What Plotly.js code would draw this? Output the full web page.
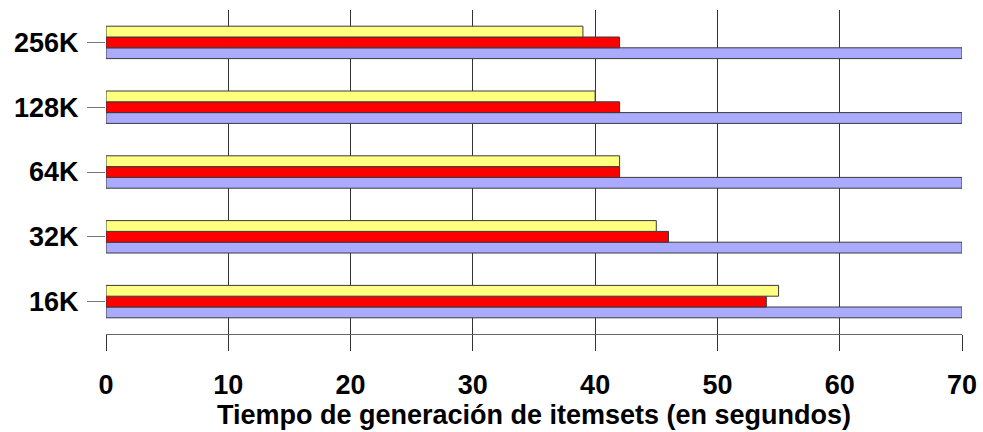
<!DOCTYPE html>
<html>
<head>
<meta charset="utf-8">
<script src="https://cdn.plot.ly/plotly-3.0.1.min.js"></script>
<style>html,body{margin:0;padding:0;background:#fff;}#chart{width:983px;height:432px;}</style>
</head>
<body>
<div id="chart"></div>
<script>
// Data
const categories = ['16K', '32K', '64K', '128K', '256K'];
const seriesYellow = [55, 45, 42, 40, 39];
const seriesRed = [54, 46, 42, 42, 42];
const seriesLavender = [70, 70, 70, 70, 70];
const xTickVals = [0, 10, 20, 30, 40, 50, 60, 70];
const xTitle = 'Tiempo de generación de itemsets (en segundos)';

const lineStyle = {color: '#3a3a3a', width: 1};
const traces = [
  {type: 'bar', orientation: 'h', y: categories, x: seriesLavender, name: 'C',
   marker: {color: '#AAAAFF', line: lineStyle}, hoverinfo: 'x+y'},
  {type: 'bar', orientation: 'h', y: categories, x: seriesRed, name: 'B',
   marker: {color: '#FF0000', line: lineStyle}, hoverinfo: 'x+y'},
  {type: 'bar', orientation: 'h', y: categories, x: seriesYellow, name: 'A',
   marker: {color: '#FFFF80', line: lineStyle}, hoverinfo: 'x+y'}
];

const font = {family: '"Liberation Sans", Arial, sans-serif', size: 27, color: '#000', weight: 'bold'};

const layout = {
  width: 983, height: 432,
  margin: {l: 106, r: 21, t: 10, b: 98, pad: 0},
  paper_bgcolor: '#fff', plot_bgcolor: '#fff',
  showlegend: false,
  barmode: 'group', bargap: 0.5, bargroupgap: 0,
  font: font,
  xaxis: {
    range: [0, 70], tickvals: xTickVals, ticktext: xTickVals.map(String),
    showgrid: true, gridcolor: '#333', gridwidth: 1,
    zeroline: false,
    showline: true, linecolor: '#666', linewidth: 1,
    ticks: 'outside', ticklen: 16, tickcolor: '#333', tickwidth: 1,
    ticklabelstandoff: 11,
    tickfont: font,
    title: {text: xTitle, font: font, standoff: 3},
    automargin: false, fixedrange: true
  },
  yaxis: {
    type: 'category', categoryarray: categories, categoryorder: 'array',
    range: [-0.5, 4.5],
    showgrid: false, zeroline: false, showline: false,
    ticks: 'outside', ticklen: 18, tickcolor: '#777', tickwidth: 1,
    ticklabelstandoff: 3,
    tickfont: font,
    automargin: false, fixedrange: true
  }
};

Plotly.newPlot('chart', traces, layout, {displayModeBar: false, staticPlot: true});
</script>
</body>
</html>
